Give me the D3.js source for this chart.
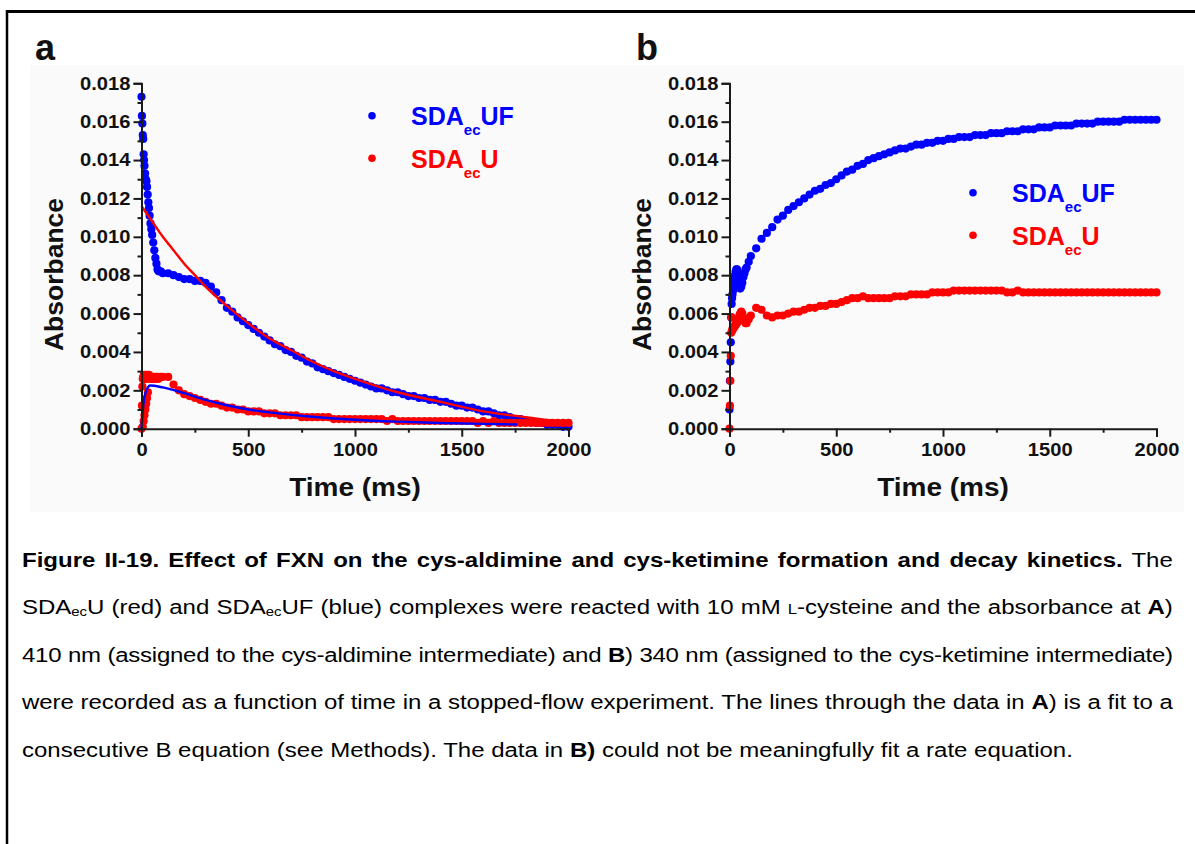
<!DOCTYPE html>
<html>
<head>
<meta charset="utf-8">
<script src="https://cdn.jsdelivr.net/npm/d3@7"></script>
<style>
  html, body { margin: 0; padding: 0; background: #fff; }
  body { width: 1195px; height: 844px; overflow: hidden; position: relative;
         font-family: "Liberation Sans", Arial, sans-serif; }
  #fig { position: absolute; left: 0; top: 0; }
  #caption { position: absolute; left: 22px; top: 537px; width: 959px;
             font-size: 20px; color: #000; transform: scaleX(1.2); transform-origin: 0 0; }
  #caption .ln { height: 47.4px; line-height: 47.4px; white-space: nowrap;
                 text-align: justify; text-align-last: justify; }
  #caption .ln.last { text-align-last: left; }
  #caption sub { font-size: 0.62em; vertical-align: -0.2em; line-height: 0; }
  #caption .sc { font-variant: small-caps; }
  .wide-end { transform-box: fill-box; transform-origin: right center; transform: scaleX(1.12); }
  .wide-mid { transform-box: fill-box; transform-origin: center center; transform: scaleX(1.12); }
</style>
</head>
<body>
<svg id="fig" width="1195" height="844"></svg>
<div id="caption">
  <div class="ln"><b>Figure II-19. Effect of FXN on the cys-aldimine and cys-ketimine formation and decay kinetics.</b> The</div>
  <div class="ln">SDA<sub>ec</sub>U (red) and SDA<sub>ec</sub>UF (blue) complexes were reacted with 10 mM <span class="sc">l</span>-cysteine and the absorbance at <b>A</b>)</div>
  <div class="ln">410 nm (assigned to the cys-aldimine intermediate) and <b>B</b>) 340 nm (assigned to the cys-ketimine intermediate)</div>
  <div class="ln">were recorded as a function of time in a stopped-flow experiment. The lines through the data in <b>A</b>) is a fit to a</div>
  <div class="ln last">consecutive B equation (see Methods). The data in <b>B)</b> could not be meaningfully fit a rate equation.</div>
</div>
<script>
// ---- Sampling times (ms) shared by the measured traces ----
const sampleTimes = [
  0, 2, 4, 6, 8, 10, 12, 14, 17, 20, 23, 26, 29, 32, 35, 38, 42, 46, 50, 55, 60, 65, 70, 75, 80, 90, 100,
  125, 150, 175, 200, 225, 250, 275, 300,
  325, 350, 375, 400, 425, 450, 475, 500,
  525, 550, 575, 600, 625, 650, 675, 700,
  725, 750, 775, 800, 825, 850, 875, 900,
  925, 950, 975, 1000, 1025, 1050, 1075, 1100,
  1125, 1150, 1175, 1200, 1225, 1250, 1275, 1300,
  1325, 1350, 1375, 1400, 1425, 1450, 1475, 1500,
  1525, 1550, 1575, 1600, 1625, 1650, 1675, 1700,
  1725, 1750, 1775, 1800, 1825, 1850, 1875, 1900,
  1925, 1950, 1975, 2000
];

// ---- Panel a: absorbance at 410 nm ----
const ufA410 = [
  0.0173, 0.0163, 0.0159, 0.0153, 0.0151, 0.0143, 0.0140, 0.0137, 0.0133, 0.0130, 0.0129, 0.0126, 0.0122, 0.0118, 0.0115, 0.0111, 0.0107, 0.0104, 0.0101, 0.0097, 0.0093, 0.0089, 0.0086, 0.0083, 0.0082, 0.0082, 0.0081,
  0.0081, 0.0080, 0.0079, 0.0078, 0.0078, 0.0077, 0.0077, 0.0076,
  0.0074, 0.0071, 0.0067, 0.0063, 0.0061, 0.0058, 0.0056, 0.0054,
  0.0052, 0.0050, 0.0048, 0.0046, 0.0044, 0.0043, 0.0041, 0.0040,
  0.0038, 0.0037, 0.0035, 0.0034, 0.0032, 0.0031, 0.0030, 0.0029,
  0.0028, 0.0027, 0.0026, 0.0025, 0.0024, 0.0023, 0.0022, 0.0021,
  0.0021, 0.0020, 0.0019, 0.0019, 0.0018, 0.0017, 0.0017, 0.0016,
  0.0016, 0.0015, 0.0015, 0.0014, 0.0014, 0.0013, 0.0012, 0.0012,
  0.0011, 0.0011, 0.0010, 0.0009, 0.0009, 0.0008, 0.0007, 0.0007,
  0.0006, 0.0005, 0.0005, 0.0004, 0.0004, 0.0003, 0.0003, 0.0002,
  0.0002, 0.0002, 0.0001, 0.0001
];
const uA410 = [
  0.0000, 0.0012, 0.0022, 0.0026, 0.0027, 0.0026, 0.0028, 0.0027, 0.0026, 0.0027, 0.0028, 0.0027, 0.0026, 0.0027, 0.0028, 0.0027, 0.0026, 0.0027, 0.0026, 0.0027, 0.0026, 0.0027, 0.0026, 0.0027, 0.0026, 0.0027, 0.0027,
  0.0027, 0.0023, 0.0020, 0.0018, 0.0017, 0.0016, 0.0015, 0.0014,
  0.0013, 0.0013, 0.0012, 0.0011, 0.0011, 0.0010, 0.0010, 0.0009,
  0.0009, 0.0009, 0.0008, 0.0008, 0.0008, 0.0007, 0.0007, 0.0007,
  0.0007, 0.0006, 0.0006, 0.0006, 0.0006, 0.0006, 0.0006, 0.0005,
  0.0005, 0.0005, 0.0005, 0.0005, 0.0005, 0.0005, 0.0005, 0.0005,
  0.0005, 0.0004, 0.0005, 0.0004, 0.0004, 0.0004, 0.0004, 0.0004,
  0.0004, 0.0004, 0.0004, 0.0004, 0.0004, 0.0004, 0.0004, 0.0004,
  0.0004, 0.0004, 0.0003, 0.0004, 0.0003, 0.0004, 0.0003, 0.0003,
  0.0003, 0.0003, 0.0003, 0.0003, 0.0003, 0.0003, 0.0003, 0.0003,
  0.0003, 0.0003, 0.0003, 0.0003
];
// second early shot of the SDAecU trace
const uA410EarlyTimes = [6, 10, 14, 18, 22, 26, 30];
const uA410Early = [0.0001, 0.0004, 0.0007, 0.0010, 0.0013, 0.0016, 0.0019];

// consecutive-B fits through the 410 nm traces
const fitUfTimes = [0, 25, 50, 100, 150, 200, 250, 300, 400, 500, 600, 700, 800, 900, 1000, 1200, 1400, 1600, 1800, 2000];
const fitUf = [0.0116, 0.0112, 0.0108, 0.0100, 0.0093, 0.0086, 0.0080, 0.0074, 0.0064, 0.0055, 0.0047, 0.0041, 0.0035, 0.0030, 0.0026, 0.0019, 0.0014, 0.0009, 0.0006, 0.0003];
const fitUTimes = [0, 5, 10, 20, 30, 40, 100, 200, 300, 400, 500, 600, 800, 1000, 1200, 1400, 1600, 1760];
const fitU = [0.0000, 0.0008, 0.0014, 0.0019, 0.00215, 0.00225, 0.00215, 0.00185, 0.0015, 0.00122, 0.0010, 0.00085, 0.00062, 0.00047, 0.00037, 0.0003, 0.00025, 0.00022];

// ---- Panel b: absorbance at 340 nm ----
const ufB340 = [
  0.0010, 0.0025, 0.0035, 0.0045, 0.0058, 0.0065, 0.0068, 0.0070, 0.0072, 0.0075, 0.0078, 0.0080, 0.0082, 0.0083, 0.0083, 0.0082, 0.0079, 0.0075, 0.0073, 0.0074, 0.0076, 0.0079, 0.0081, 0.0083, 0.0084, 0.0087, 0.0090,
  0.0094, 0.0099, 0.0102, 0.0105, 0.0109, 0.0111, 0.0114, 0.0116,
  0.0118, 0.0120, 0.0122, 0.0124, 0.0125, 0.0127, 0.0128, 0.0130,
  0.0132, 0.0134, 0.0135, 0.0137, 0.0138, 0.0140, 0.0141, 0.0142,
  0.0143, 0.0144, 0.0145, 0.0146, 0.0146, 0.0147, 0.0148, 0.0148,
  0.0149, 0.0149, 0.0150, 0.0150, 0.0151, 0.0151, 0.0152, 0.0152,
  0.0152, 0.0153, 0.0153, 0.0153, 0.0154, 0.0154, 0.0154, 0.0155,
  0.0155, 0.0155, 0.0156, 0.0156, 0.0156, 0.0157, 0.0157, 0.0157,
  0.0158, 0.0158, 0.0158, 0.0158, 0.0159, 0.0159, 0.0159, 0.0159,
  0.0160, 0.0160, 0.0160, 0.0160, 0.0160, 0.0161, 0.0161, 0.0161,
  0.0161, 0.0161, 0.0161, 0.0161
];
const uB340 = [
  0.0000, 0.0012, 0.0025, 0.0038, 0.0050, 0.0058, 0.0051, 0.0052, 0.0052, 0.0053, 0.0053, 0.0054, 0.0054, 0.0055, 0.0055, 0.0056, 0.0057, 0.0059, 0.0060, 0.0061, 0.0060, 0.0058, 0.0056, 0.0055, 0.0055, 0.0057, 0.0059,
  0.0063, 0.0062, 0.0059, 0.0058, 0.0059, 0.0059, 0.0060, 0.0061,
  0.0061, 0.0062, 0.0063, 0.0063, 0.0064, 0.0064, 0.0065, 0.0065,
  0.0066, 0.0067, 0.0068, 0.0068, 0.0069, 0.0068, 0.0068, 0.0068,
  0.0068, 0.0068, 0.0069, 0.0069, 0.0069, 0.0070, 0.0070, 0.0070,
  0.0070, 0.0071, 0.0071, 0.0071, 0.0071, 0.0072, 0.0072, 0.0072,
  0.0072, 0.0072, 0.0072, 0.0072, 0.0072, 0.0072, 0.0072, 0.0071,
  0.0071, 0.0072, 0.0071, 0.0071, 0.0071, 0.0071, 0.0071, 0.0071,
  0.0071, 0.0071, 0.0071, 0.0071, 0.0071, 0.0071, 0.0071, 0.0071,
  0.0071, 0.0071, 0.0071, 0.0071, 0.0071, 0.0071, 0.0071, 0.0071,
  0.0071, 0.0071, 0.0071, 0.0071
];

// ---- Axis ticks ----
const yMajorTicks = [0, 0.002, 0.004, 0.006, 0.008, 0.010, 0.012, 0.014, 0.016, 0.018];
const yMinorTicks = [0.001, 0.003, 0.005, 0.007, 0.009, 0.011, 0.013, 0.015, 0.017];
const xMajorTicks = [0, 500, 1000, 1500, 2000];
const xMinorTicks = [250, 750, 1250, 1750];

const BLUE = "#0000ff", RED = "#ff0000", INK = "#1a1a1a";
const FONT = "'Liberation Sans', Arial, sans-serif";
const DOT_R = 4.1;

// tighten letter spacing on any caption line that would not fit its box
document.querySelectorAll("#caption .ln").forEach(el => {
  let ls = 0;
  while (el.scrollWidth > el.clientWidth && ls > -1.5) {
    ls -= 0.05;
    el.style.letterSpacing = ls.toFixed(2) + "px";
  }
});

const svg = d3.select("#fig");

// page frame lines
svg.append("line").attr("x1", 6).attr("x2", 1195).attr("y1", 11.5).attr("y2", 11.5)
  .attr("stroke", "#000").attr("stroke-width", 3);
svg.append("line").attr("x1", 7).attr("x2", 7).attr("y1", 10).attr("y2", 844)
  .attr("stroke", "#000").attr("stroke-width", 2.5);

// faint backdrop of the embedded figure
svg.append("rect").attr("x", 30).attr("y", 65).attr("width", 1154).attr("height", 447)
  .attr("fill", "#fafafa");

const yScale = d3.scaleLinear().domain([0, 0.018]).range([428.7, 83.3]);

function pairs(times, vals) {
  return times.map((t, i) => ({ t, v: vals[i] })).filter(d => d.v != null);
}

function drawPanel(opts) {
  const x = d3.scaleLinear().domain([0, 2000]).range([opts.x0, opts.x0 + 427]);
  const g = svg.append("g");

  // panel letter
  g.append("text").attr("x", opts.letterX).attr("y", 60)
    .attr("font-family", FONT).attr("font-weight", "bold").attr("font-size", 36)
    .attr("fill", "#111").text(opts.letter);

  // scatter series
  const plot = g.append("g");
  opts.series.forEach(s => {
    plot.append("g").selectAll("circle").data(pairs(s.times, s.values)).join("circle")
      .attr("cx", d => x(d.t)).attr("cy", d => yScale(d.v)).attr("r", DOT_R)
      .attr("fill", s.color);
  });

  // fit curves
  const line = d3.line().x(d => x(d.t)).y(d => yScale(d.v)).curve(d3.curveMonotoneX);
  (opts.fits || []).forEach(f => {
    plot.append("path").attr("d", line(pairs(f.times, f.values)))
      .attr("fill", "none").attr("stroke", f.color).attr("stroke-width", 2.4);
  });

  // axes
  const yAxis = d3.axisLeft(yScale).tickValues(yMajorTicks).tickFormat(d3.format(".3f"))
    .tickSize(8).tickPadding(3);
  const yMinor = d3.axisLeft(yScale).tickValues(yMinorTicks).tickFormat("").tickSize(4);
  const xAxis = d3.axisBottom(x).tickValues(xMajorTicks).tickFormat(d3.format("d"))
    .tickSize(8).tickPadding(7);
  const xMinor = d3.axisBottom(x).tickValues(xMinorTicks).tickFormat("").tickSize(4);

  const styleAxis = (sel, cls) => {
    sel.selectAll("path, line").attr("stroke", INK).attr("stroke-width", 2);
    sel.selectAll("text").attr("font-family", FONT).attr("font-weight", "bold")
      .attr("font-size", 18).attr("fill", "#111").attr("class", cls);
  };
  g.append("g").attr("transform", `translate(${opts.x0},0)`).call(yMinor)
    .call(s => s.select(".domain").remove()).call(styleAxis, "wide-end");
  g.append("g").attr("transform", `translate(0,${yScale(0)})`).call(xMinor)
    .call(s => s.select(".domain").remove()).call(styleAxis, "wide-mid");
  g.append("g").attr("transform", `translate(${opts.x0},0)`).call(yAxis).call(styleAxis, "wide-end");
  g.append("g").attr("transform", `translate(0,${yScale(0)})`).call(xAxis).call(styleAxis, "wide-mid");

  // axis titles
  g.append("text").attr("transform", `translate(${opts.x0 - 79},${274.5}) rotate(-90)`)
    .attr("text-anchor", "middle").attr("font-family", FONT).attr("font-weight", "bold")
    .attr("font-size", 26.5).attr("fill", "#111").text("Absorbance");
  g.append("text").attr("x", opts.x0 + 213.5).attr("y", 496)
    .attr("text-anchor", "middle").attr("font-family", FONT).attr("font-weight", "bold")
    .attr("font-size", 25).attr("fill", "#111").attr("class", "wide-mid").text("Time (ms)");

  // legend
  opts.legend.forEach((L, i) => {
    const cy = opts.legendY + i * 42.5;
    g.append("circle").attr("cx", opts.legendDotX).attr("cy", cy).attr("r", 3.8).attr("fill", L.color);
    const t = g.append("text").attr("x", opts.legendTextX).attr("y", cy + 9.5)
      .attr("font-family", FONT).attr("font-weight", "bold").attr("font-size", 25)
      .attr("fill", L.color);
    t.append("tspan").text("SDA");
    t.append("tspan").attr("font-size", 15).attr("dy", 10).text("ec");
    t.append("tspan").attr("dy", -10).text(L.suffix);
  });
}

drawPanel({
  letter: "a", letterX: 35, x0: 141.5,
  series: [
    { times: sampleTimes, values: ufA410, color: BLUE },
    { times: sampleTimes, values: uA410, color: RED },
    { times: uA410EarlyTimes, values: uA410Early, color: RED }
  ],
  fits: [
    { times: fitUfTimes, values: fitUf, color: RED },
    { times: fitUTimes, values: fitU, color: BLUE }
  ],
  legend: [{ color: BLUE, suffix: "UF" }, { color: RED, suffix: "U" }],
  legendY: 115.7, legendDotX: 372, legendTextX: 411
});

drawPanel({
  letter: "b", letterX: 636, x0: 729.5,
  series: [
    { times: sampleTimes, values: ufB340, color: BLUE },
    { times: sampleTimes, values: uB340, color: RED }
  ],
  legend: [{ color: BLUE, suffix: "UF" }, { color: RED, suffix: "U" }],
  legendY: 192.7, legendDotX: 973, legendTextX: 1012
});
</script>
</body>
</html>
